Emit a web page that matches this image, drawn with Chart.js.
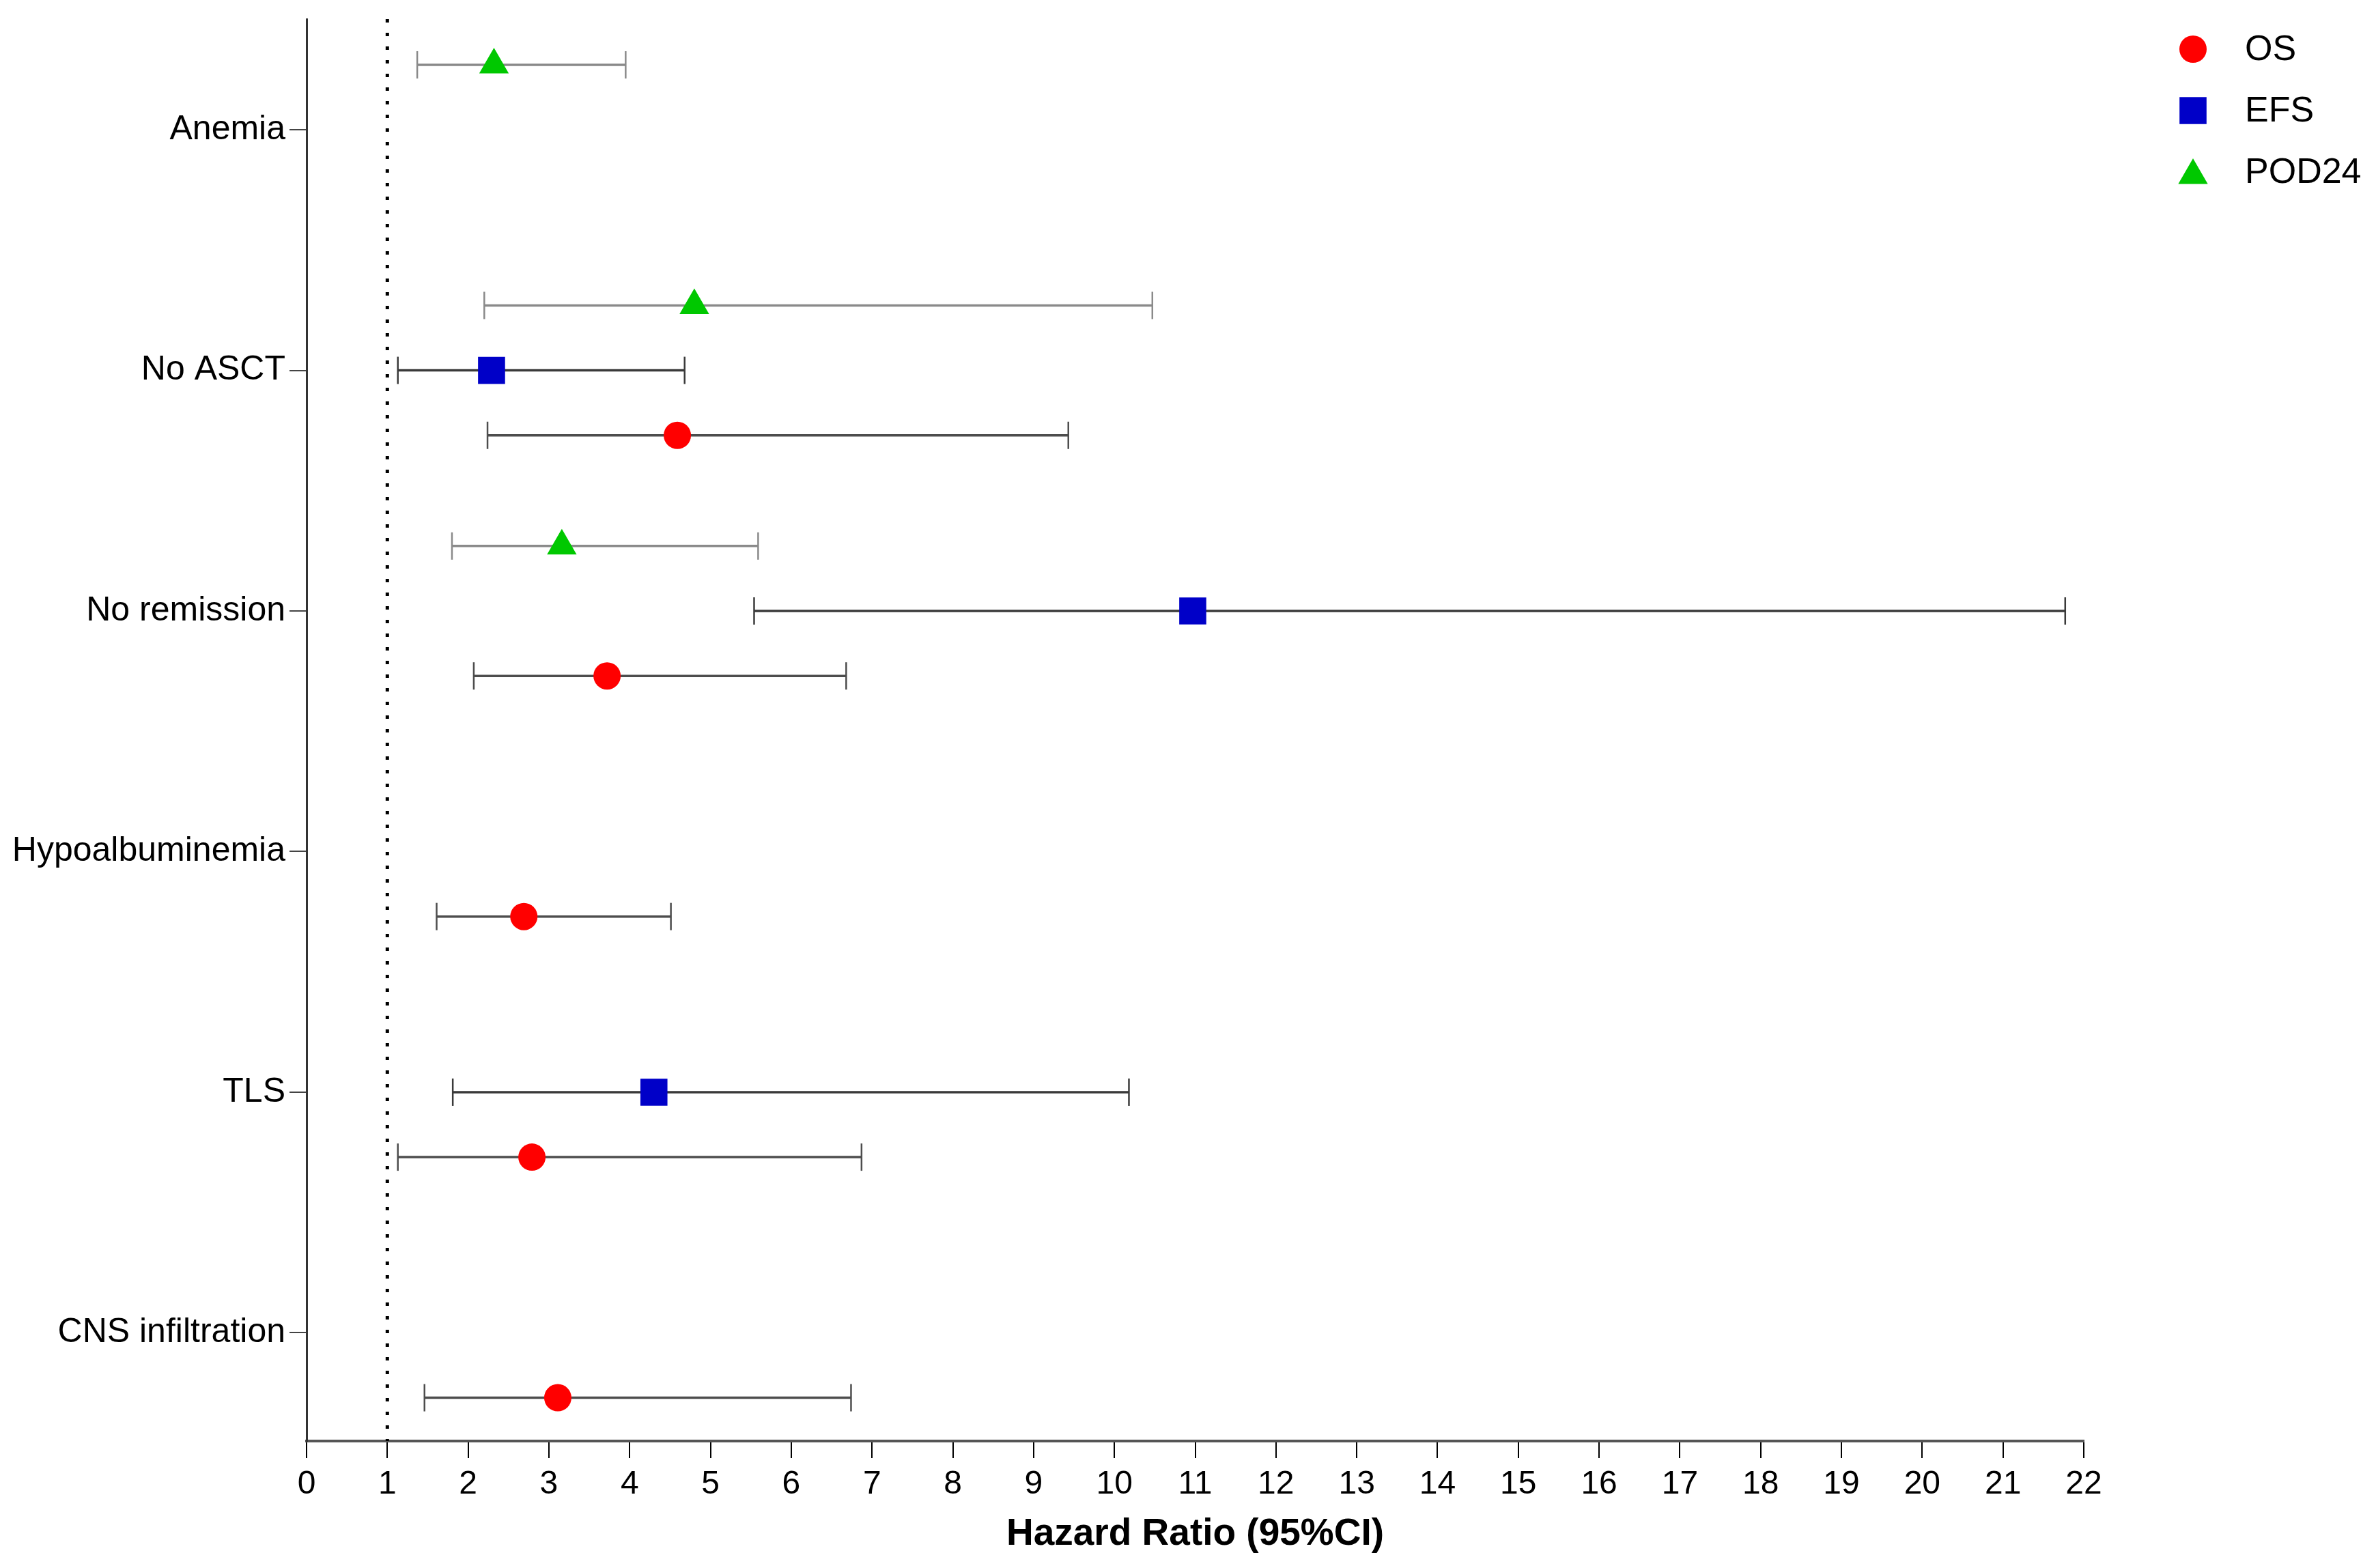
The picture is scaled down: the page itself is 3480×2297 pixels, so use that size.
<!DOCTYPE html>
<html>
<head>
<meta charset="utf-8">
<title>Hazard Ratio forest plot</title>
<script src="https://cdn.jsdelivr.net/npm/chart.js@4.4.1/dist/chart.umd.min.js"></script>
<style>
  html, body { margin: 0; padding: 0; background: #fff; }
  canvas { display: block; }
</style>
</head>
<body>
<canvas id="forest" width="3480" height="2297" style="width:3480px;height:2297px"></canvas>
<script>
// data
const categories = ['Anemia', 'No ASCT', 'No remission', 'Hypoalbuminemia', 'TLS', 'CNS infiltration'];

const osHR    = [null, 4.59, 3.72, 2.69, 2.79, 3.11];
const osLow   = [null, 2.24, 2.07, 1.61, 1.13, 1.46];
const osHigh  = [null, 9.43, 6.68, 4.51, 6.87, 6.74];

const efsHR   = [null, 2.29, 10.97, null, 4.30, null];
const efsLow  = [null, 1.13, 5.54, null, 1.81, null];
const efsHigh = [null, 4.68, 21.77, null, 10.18, null];

const pod24HR   = [2.32, 4.80, 3.16, null, null, null];
const pod24Low  = [1.37, 2.20, 1.80, null, null, null];
const pod24High = [3.95, 10.47, 5.59, null, null, null];

const xMin = 0;
const xMax = 22;
const referenceHR = 1;
const axisTitle = 'Hazard Ratio (95%CI)';

const FONT = "'Liberation Sans', Arial, Helvetica, sans-serif";

// how each series looks
const series = [
  { label: 'OS',    hr: osHR,    low: osLow,    high: osHigh,    color: '#ff0000', shape: 'circle',   radius: 20, offset: 0.27,  bar: '#4d4d4d' },
  { label: 'EFS',   hr: efsHR,   low: efsLow,   high: efsHigh,   color: '#0000c8', shape: 'rect',     radius: 28, offset: 0,     bar: '#3a3a3a' },
  { label: 'POD24', hr: pod24HR, low: pod24Low, high: pod24High, color: '#00c800', shape: 'triangle', radius: 25, offset: -0.27, bar: '#8a8a8a' }
];

const yMin = -0.46;
const yMax = 5.45;

const datasets = [];

// point markers, drawn on top
series.forEach(s => {
  const pts = [];
  s.hr.forEach((v, i) => { if (v !== null) pts.push({ x: v, y: i + s.offset }); });
  datasets.push({
    type: 'scatter',
    label: s.label,
    data: pts,
    pointStyle: s.shape,
    pointRadius: s.radius,
    pointHoverRadius: s.radius,
    backgroundColor: s.color,
    borderColor: s.color,
    borderWidth: 0,
    order: 0
  });
});

// confidence interval whiskers
series.forEach(s => {
  s.hr.forEach((v, i) => {
    if (v === null) return;
    datasets.push({
      type: 'line',
      label: s.label + ' CI ' + categories[i],
      data: [{ x: s.low[i], y: i + s.offset }, { x: s.high[i], y: i + s.offset }],
      borderColor: s.bar,
      borderWidth: 3.5,
      pointStyle: 'line',
      pointRotation: 90,
      pointRadius: 20,
      pointHoverRadius: 20,
      pointBorderColor: s.bar,
      pointBorderWidth: 2.5,
      fill: false,
      order: 1
    });
  });
});

// dotted reference line at HR = 1
datasets.push({
  type: 'line',
  label: 'reference',
  data: [{ x: referenceHR, y: yMin }, { x: referenceHR, y: yMax }],
  borderColor: '#000',
  borderWidth: 5,
  borderDash: [5, 15],
  borderCapStyle: 'butt',
  pointRadius: 0,
  fill: false,
  order: 2
});

const sideLegend = {
  id: 'sideLegend',
  afterDraw(chart) {
    const ctx = chart.ctx;
    const markerX = 3212, textX = 3288, firstY = 72, stepY = 90;
    ctx.save();
    series.forEach((s, k) => {
      const y = firstY + k * stepY;
      ctx.fillStyle = s.color;
      ctx.strokeStyle = s.color;
      const r = s.radius;
      if (Chart.helpers && Chart.helpers.drawPoint) {
        Chart.helpers.drawPoint(ctx, { pointStyle: s.shape, radius: r, rotation: 0, borderWidth: 0 }, markerX, y + (s.shape === 'triangle' ? 5 : 0));
      } else {
        ctx.beginPath();
        ctx.arc(markerX, y, r, 0, Math.PI * 2);
        ctx.fill();
      }
      ctx.fillStyle = '#000';
      ctx.font = '52px ' + FONT;
      ctx.textBaseline = 'middle';
      ctx.textAlign = 'left';
      ctx.fillText(s.label, textX, y + 2);
    });
    ctx.restore();
  }
};

new Chart(document.getElementById('forest'), {
  type: 'scatter',
  data: { datasets },
  plugins: [sideLegend],
  options: {
    responsive: false,
    devicePixelRatio: 1,
    animation: false,
    layout: { padding: { top: 27, right: 428, bottom: 0, left: 0 } },
    plugins: {
      legend: { display: false },
      tooltip: { enabled: false }
    },
    scales: {
      x: {
        type: 'linear',
        min: xMin,
        max: xMax,
        afterFit: scale => { scale.height = 186; },
        ticks: {
          stepSize: 1,
          color: '#000',
          padding: 10,
          font: { family: FONT, size: 48 }
        },
        grid: {
          drawOnChartArea: false,
          drawTicks: true,
          tickLength: 25,
          color: '#000',
          lineWidth: 2
        },
        border: { color: '#555', width: 4 },
        title: {
          display: true,
          text: axisTitle,
          color: '#000',
          font: { family: FONT, size: 55, weight: 'bold' },
          padding: { top: 0, bottom: 16 }
        }
      },
      y: {
        type: 'linear',
        min: yMin,
        max: yMax,
        reverse: true,
        afterFit: scale => {
          scale.width = 449;
          scale.paddingTop = 0;
          scale.paddingBottom = 0;
        },
        afterBuildTicks: scale => {
          scale.ticks = categories.map((c, i) => ({ value: i }));
        },
        ticks: {
          color: '#000',
          padding: 6,
          font: { family: FONT, size: 50 },
          callback: v => categories[v]
        },
        grid: {
          drawOnChartArea: false,
          drawTicks: true,
          tickLength: 25,
          color: '#444',
          lineWidth: 2
        },
        border: { color: '#333', width: 3 }
      }
    }
  }
});
</script>
</body>
</html>
